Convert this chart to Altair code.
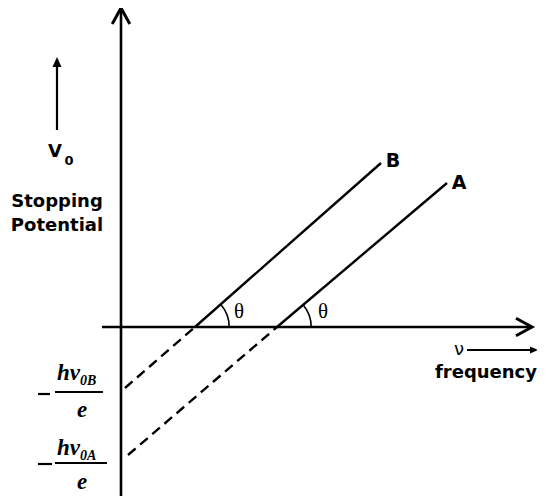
import math
import altair as alt
import pandas as pd

# ---- data (units: px from the origin of the axes, V upward) ----
# axes
axis_seg = ["yaxis", "yaxis", "xaxis", "xaxis"]
axis_x = [0, 0, -19, 411]
axis_y = [-169, 319, 0, 0]

# photoelectric lines: solid part (above nu axis)
solid_seg = ["B", "B", "A", "A"]
solid_x = [74, 260, 156, 326]
solid_y = [0, 164, 0, 144]

# dashed extrapolation down to the V0 axis
dash_seg = ["B", "B", "A", "A"]
dash_x = [4, 74, 7, 156]
dash_y = [-61, 0, -128, 0]

# threshold points (where theta arcs are drawn)
thr_x = [74, 156]
thr_y = [0, 0]
theta_angle_deg = 41

# labels
line_labels = ["B", "A"]
line_label_x = [272, 338]
line_label_y = [166, 144]

theta_labels = ["θ", "θ"]
theta_label_x = [118, 202]
theta_label_y = [15, 15]

sans_labels = ["Stopping", "Potential", "frequency"]
sans_x = [-64, -64, 365]
sans_y = [125, 101, -46]

nu_label_x, nu_label_y = 338, -23

v_label_x, v_label_y = -66, 175
v_sub_x, v_sub_y = -52, 166

# fraction labels  -h nu0B / e  and  -h nu0A / e
frac_num = ["hν", "hν"]
frac_sub = ["0B", "0A"]
frac_num_x = [-64, -64]
frac_num_y = [-53, -128]
frac_sub_x = [-41, -41]
frac_sub_y = [-58, -133]
frac_den_x = [-39, -39]
frac_den_y = [-83, -155]
bar_seg = ["minB", "minB", "barB", "barB", "minA", "minA", "barA", "barA"]
bar_x = [-83, -71, -66, -18, -83, -69, -66, -14]
bar_y = [-67, -67, -65, -65, -137, -137, -136, -136]

# small arrows
v_arrow_x = [-64, -64]
v_arrow_y = [197, 266]
nu_arrow_x = [346, 414]
nu_arrow_y = [-23, -23]

# ---- scales ----
xs = alt.Scale(domain=[-113, 416], nice=False, zero=False)
ys = alt.Scale(domain=[-169, 319], nice=False, zero=False)
X = alt.X("x:Q", scale=xs, axis=None)
Y = alt.Y("y:Q", scale=ys, axis=None)


def seg_df(seg, x, y):
    return pd.DataFrame({"seg": seg, "x": x, "y": y, "o": list(range(len(x)))})


axes = alt.Chart(seg_df(axis_seg, axis_x, axis_y)).mark_line(
    color="black", strokeWidth=2.6
).encode(X, Y, detail="seg:N", order="o:Q")

solid = alt.Chart(seg_df(solid_seg, solid_x, solid_y)).mark_line(
    color="black", strokeWidth=2.4
).encode(X, Y, detail="seg:N", order="o:Q")

dashed = alt.Chart(seg_df(dash_seg, dash_x, dash_y)).mark_line(
    color="black", strokeWidth=2.4, strokeDash=[10, 6]
).encode(X, Y, detail="seg:N", order="o:Q")

bars = alt.Chart(seg_df(bar_seg, bar_x, bar_y)).mark_line(
    color="black", strokeWidth=2.2
).encode(X, Y, detail="seg:N", order="o:Q")

small_arrows = alt.Chart(
    seg_df(["v", "v", "nu", "nu"], v_arrow_x + nu_arrow_x, v_arrow_y + nu_arrow_y)
).mark_line(color="black", strokeWidth=2.2).encode(X, Y, detail="seg:N", order="o:Q")

chevron = "M-0.55,1L0,0L0.55,1"
head_up = alt.Chart(pd.DataFrame({"x": [axis_x[1]], "y": [axis_y[1]]})).mark_point(
    shape=chevron, size=1024, filled=False, stroke="black", strokeWidth=3, opacity=1
).encode(X, Y)
head_right = alt.Chart(pd.DataFrame({"x": [axis_x[3]], "y": [axis_y[3]]})).mark_point(
    shape=chevron, size=1024, filled=False, stroke="black", strokeWidth=3, angle=90, opacity=1
).encode(X, Y)

tri = "M0,0L0.45,1L-0.45,1Z"
v_head = alt.Chart(pd.DataFrame({"x": [v_arrow_x[1]], "y": [v_arrow_y[1] + 4]})).mark_point(
    shape=tri, size=400, filled=True, color="black", opacity=1
).encode(X, Y)
nu_head = alt.Chart(pd.DataFrame({"x": [nu_arrow_x[1] + 3], "y": [nu_arrow_y[1]]})).mark_point(
    shape=tri, size=256, filled=True, color="black", angle=90, opacity=1
).encode(X, Y)

th = math.radians(90 - theta_angle_deg)
arcs = alt.Chart(pd.DataFrame({"x": thr_x, "y": thr_y})).mark_arc(
    radius=35, radius2=33.4, theta=th, theta2=math.pi / 2, color="black"
).encode(X, Y)

lbl_lines = alt.Chart(pd.DataFrame({"x": line_label_x, "y": line_label_y, "t": line_labels})).mark_text(
    font="DejaVu Sans", fontWeight="bold", fontSize=19, color="black"
).encode(X, Y, text="t:N")

lbl_theta = alt.Chart(pd.DataFrame({"x": theta_label_x, "y": theta_label_y, "t": theta_labels})).mark_text(
    font="Liberation Serif", fontSize=21, color="black"
).encode(X, Y, text="t:N")

lbl_sans = alt.Chart(pd.DataFrame({"x": sans_x, "y": sans_y, "t": sans_labels})).mark_text(
    font="DejaVu Sans", fontWeight="bold", fontSize=18, color="black"
).encode(X, Y, text="t:N")

lbl_nu = alt.Chart(pd.DataFrame({"x": [nu_label_x], "y": [nu_label_y], "t": ["ν"]})).mark_text(
    font="DejaVu Sans", fontSize=18, color="black"
).encode(X, Y, text="t:N")

lbl_v = alt.Chart(pd.DataFrame({"x": [v_label_x], "y": [v_label_y], "t": ["V"]})).mark_text(
    font="DejaVu Sans", fontWeight="bold", fontSize=18, color="black"
).encode(X, Y, text="t:N")
lbl_v0 = alt.Chart(pd.DataFrame({"x": [v_sub_x], "y": [v_sub_y], "t": ["0"]})).mark_text(
    font="DejaVu Sans", fontWeight="bold", fontSize=13, color="black"
).encode(X, Y, text="t:N")

lbl_num = alt.Chart(pd.DataFrame({"x": frac_num_x, "y": frac_num_y, "t": frac_num})).mark_text(
    font="Liberation Serif", fontStyle="italic", fontWeight="bold", fontSize=23,
    align="left", baseline="alphabetic", color="black"
).encode(X, Y, text="t:N")
lbl_sub = alt.Chart(pd.DataFrame({"x": frac_sub_x, "y": frac_sub_y, "t": frac_sub})).mark_text(
    font="Liberation Serif", fontStyle="italic", fontWeight="bold", fontSize=14,
    align="left", baseline="alphabetic", color="black"
).encode(X, Y, text="t:N")
lbl_den = alt.Chart(pd.DataFrame({"x": frac_den_x, "y": frac_den_y, "t": ["e", "e"]})).mark_text(
    font="Liberation Serif", fontStyle="italic", fontWeight="bold", fontSize=23, color="black"
).encode(X, Y, text="t:N")

chart = alt.layer(
    axes, dashed, solid, bars, small_arrows, head_up, head_right, v_head, nu_head, arcs,
    lbl_lines, lbl_theta, lbl_sans, lbl_nu, lbl_v, lbl_v0, lbl_num, lbl_sub, lbl_den,
).properties(
    width=529, height=488, padding=0, autosize="none", background="white"
).configure_view(stroke=None)

chart.save("out.html", embed_options={"renderer": "svg", "actions": False})
